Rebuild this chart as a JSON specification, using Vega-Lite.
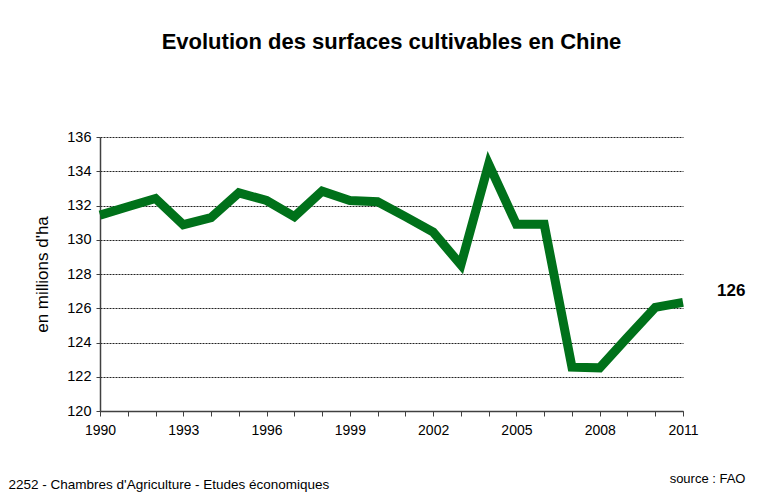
{
  "$schema": "https://vega.github.io/schema/vega-lite/v6.json",
  "width": 583,
  "height": 274,
  "autosize": {"type": "none"},
  "padding": {"left": 100, "top": 137, "right": 77, "bottom": 90},
  "background": "white",
  "config": {
    "font": "Liberation Sans",
    "view": {"stroke": null}
  },
  "title": {
    "text": "Evolution des surfaces cultivables en Chine",
    "fontSize": 22,
    "fontWeight": "bold",
    "font": "Liberation Sans",
    "color": "black",
    "anchor": "middle",
    "offset": 75
  },
  "data": {
    "values": [
      {"year": 1990, "value": 131.44},
      {"year": 1991, "value": 131.93},
      {"year": 1992, "value": 132.41},
      {"year": 1993, "value": 130.88},
      {"year": 1994, "value": 131.29},
      {"year": 1995, "value": 132.74},
      {"year": 1996, "value": 132.29},
      {"year": 1997, "value": 131.35},
      {"year": 1998, "value": 132.84},
      {"year": 1999, "value": 132.29},
      {"year": 2000, "value": 132.22},
      {"year": 2001, "value": 131.35},
      {"year": 2002, "value": 130.45},
      {"year": 2003, "value": 128.53},
      {"year": 2004, "value": 134.42},
      {"year": 2005, "value": 130.9},
      {"year": 2006, "value": 130.9},
      {"year": 2007, "value": 122.56},
      {"year": 2008, "value": 122.52},
      {"year": 2009, "value": 124.3},
      {"year": 2010, "value": 126.05},
      {"year": 2011, "value": 126.34}
    ]
  },
  "layer": [
    {
      "mark": {"type": "line", "color": "#00711a", "strokeWidth": 9, "strokeJoin": "miter", "strokeCap": "butt"},
      "encoding": {
        "x": {
          "field": "year",
          "type": "quantitative",
          "scale": {"domain": [1990, 2011], "nice": false, "zero": false},
          "axis": {
            "values": [1990,1991,1992,1993,1994,1995,1996,1997,1998,1999,2000,2001,2002,2003,2004,2005,2006,2007,2008,2009,2010,2011],
            "labelExpr": "(datum.value - 1990) % 3 == 0 ? datum.value : ''",
            "format": "d",
            "grid": false,
            "domainColor": "#404040",
            "domainWidth": 1.5,
            "tickColor": "#404040",
            "tickSize": 5,
            "tickWidth": 1,
            "labelFontSize": 14,
            "labelColor": "black",
            "labelPadding": 7,
            "labelFont": "Liberation Sans",
            "labelFlush": false,
            "labelOverlap": false,
            "labelBound": false,
            "title": "2252 - Chambres d'Agriculture - Etudes économiques",
            "titleFontSize": 13.5,
            "titleFontWeight": "normal",
            "titleColor": "black",
            "titleFont": "Liberation Sans",
            "titleAnchor": "start",
            "titleAlign": "left",
            "titleX": -92,
            "titleY": 73,
            "titleBaseline": "middle"
          }
        },
        "y": {
          "field": "value",
          "type": "quantitative",
          "scale": {"domain": [120, 136], "nice": false, "zero": false},
          "axis": {
            "values": [120,122,124,126,128,130,132,134,136],
            "grid": true,
            "gridColor": "#222222",
            "gridDash": [2, 1],
            "gridWidth": 1,
            "domainColor": "#404040",
            "domainWidth": 1.5,
            "ticks": true,
            "tickSize": 4,
            "tickColor": "#404040",
            "labelPadding": 5,
            "labelFontSize": 14.5,
            "labelColor": "black",
            "labelFont": "Liberation Sans",
            "title": "en millions d'ha",
            "titleFontSize": 17,
            "titleFontWeight": "normal",
            "titleColor": "black",
            "titleFont": "Liberation Sans",
            "titleX": -58,
            "titleY": 137,
            "titleAngle": -90,
            "titleBaseline": "middle",
            "titleAlign": "center"
          }
        }
      }
    },
    {
      "transform": [{"filter": "datum.year == 2011"}],
      "mark": {"type": "text", "fontSize": 17, "fontWeight": "bold", "font": "Liberation Sans", "color": "black", "align": "left", "dx": 34, "dy": -11},
      "encoding": {
        "x": {
          "field": "year",
          "type": "quantitative",
          "scale": {"domain": [1990, 2011], "nice": false, "zero": false},
          "axis": {
            "values": [1990,1991,1992,1993,1994,1995,1996,1997,1998,1999,2000,2001,2002,2003,2004,2005,2006,2007,2008,2009,2010,2011],
            "labelExpr": "(datum.value - 1990) % 3 == 0 ? datum.value : ''",
            "format": "d",
            "grid": false,
            "domainColor": "#404040",
            "domainWidth": 1.5,
            "tickColor": "#404040",
            "tickSize": 5,
            "tickWidth": 1,
            "labelFontSize": 14,
            "labelColor": "black",
            "labelPadding": 7,
            "labelFont": "Liberation Sans",
            "labelFlush": false,
            "labelOverlap": false,
            "labelBound": false,
            "title": "2252 - Chambres d'Agriculture - Etudes économiques",
            "titleFontSize": 13.5,
            "titleFontWeight": "normal",
            "titleColor": "black",
            "titleFont": "Liberation Sans",
            "titleAnchor": "start",
            "titleAlign": "left",
            "titleX": -92,
            "titleY": 73,
            "titleBaseline": "middle"
          }
        },
        "y": {
          "field": "value",
          "type": "quantitative",
          "scale": {"domain": [120, 136], "nice": false, "zero": false},
          "axis": {
            "orient": "right",
            "labels": false,
            "ticks": false,
            "domain": false,
            "grid": false,
            "title": "source : FAO",
            "titleAngle": 0,
            "titleFontSize": 13,
            "titleFontWeight": "normal",
            "titleColor": "black",
            "titleFont": "Liberation Sans",
            "titleAlign": "right",
            "titleX": 62,
            "titleY": 341,
            "titleBaseline": "middle"
          }
        },
        "text": {"field": "value", "type": "quantitative", "format": ".0f"}
      }
    }
  ],
  "resolve": {"scale": {"y": "independent"}, "axis": {"y": "independent"}}
}
